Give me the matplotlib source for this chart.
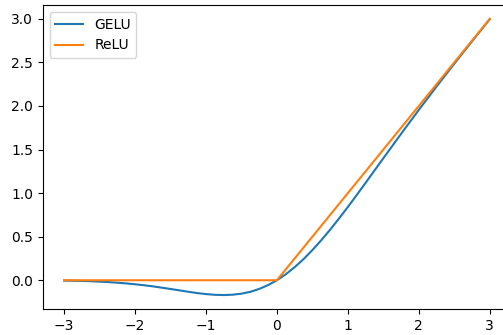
import matplotlib
matplotlib.use("Agg")
import matplotlib.pyplot as plt

x_gelu = [-3.0, -2.875, -2.75, -2.625, -2.5, -2.375, -2.25, -2.125, -2.0, -1.875,
          -1.75, -1.625, -1.5, -1.375, -1.25, -1.125, -1.0, -0.875, -0.75, -0.625,
          -0.5, -0.375, -0.25, -0.125, 0.0, 0.125, 0.25, 0.375, 0.5, 0.625,
          0.75, 0.875, 1.0, 1.125, 1.25, 1.375, 1.5, 1.625, 1.75, 1.875,
          2.0, 2.125, 2.25, 2.375, 2.5, 2.625, 2.75, 2.875, 3.0]
y_gelu = [-0.004, -0.006, -0.008, -0.011, -0.016, -0.021, -0.028, -0.036, -0.046, -0.057,
          -0.070, -0.085, -0.100, -0.116, -0.132, -0.147, -0.159, -0.167, -0.170, -0.166,
          -0.154, -0.133, -0.100, -0.056, 0.0, 0.069, 0.150, 0.242, 0.346, 0.459,
          0.580, 0.708, 0.841, 0.978, 1.118, 1.259, 1.400, 1.540, 1.680, 1.818,
          1.955, 2.089, 2.223, 2.354, 2.485, 2.614, 2.742, 2.869, 2.996]

x_relu = [-3.0, 0.0, 3.0]
y_relu = [0.0, 0.0, 3.0]

fig = plt.figure(figsize=(5.03, 3.35), dpi=100)
# the right part of the axes is cut off in the reference
ax = fig.add_axes([0.085, 0.078, 0.931, 0.907])
ax.plot(x_gelu, y_gelu, label='GELU')
ax.plot(x_relu, y_relu, label='ReLU')
ax.legend(loc='upper left')
fig.savefig('out.png', dpi=100)
